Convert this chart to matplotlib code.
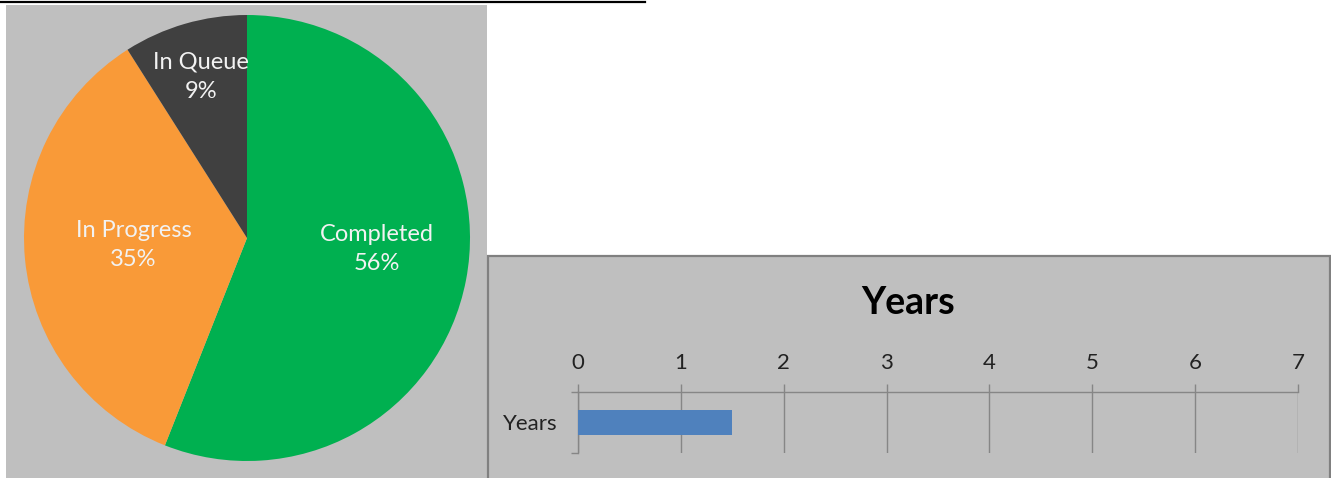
import numpy as np
import matplotlib.pyplot as plt
from matplotlib.patches import Rectangle
from matplotlib.lines import Line2D

plt.rcParams['font.family'] = ['Lato', 'DejaVu Sans']

# pie data
status = ['Completed', 'In Progress', 'In Queue']
share = [56, 35, 9]
pie_colors = ['#00B050', '#F99A38', '#404040']

# bar data
bar_cats = ['Years']
bar_vals = [1.5]
x_ticks = [0, 1, 2, 3, 4, 5, 6, 7]

W, H = 1331, 478
fig = plt.figure(figsize=(W / 100, H / 100), dpi=100)
fig.patch.set_facecolor('white')

def px(x0, y0, w, h):
    # pixel box measured from top-left -> figure fraction
    return [x0 / W, (H - y0 - h) / H, w / W, h / H]

# backgrounds
fig.add_artist(Rectangle((6 / W, 0), 481 / W, 473 / H, transform=fig.transFigure,
                         facecolor='#BFBFBF', edgecolor='none', zorder=0))
fig.add_artist(Rectangle((488 / W, -5 / H), 842 / W, 227 / H, transform=fig.transFigure,
                         facecolor='#BFBFBF', edgecolor='#808080', linewidth=1.6, zorder=0))
fig.add_artist(Line2D([0, 645 / W], [1 - 1.5 / H, 1 - 1.5 / H], transform=fig.transFigure,
                      color='black', linewidth=1.6))

# ---- pie
ax = fig.add_axes(px(24, 15, 446, 446))
wedges, _ = ax.pie(share, colors=pie_colors, startangle=90, counterclock=False,
                   radius=1, wedgeprops=dict(linewidth=0))
ax.set_xlim(-1, 1)
ax.set_ylim(-1, 1)
ax.set_aspect('equal')
ax.axis('off')

label_pos = [(0.585, -4.8), (0.51, 183.5), (0.75, 106)]
for name, v, (r, ang) in zip(status, share, label_pos):
    a = np.deg2rad(ang)
    ax.text(r * np.cos(a), r * np.sin(a), f'{name}\n{v}%', ha='center', va='center',
            color='#F2F2F2', fontsize=17, linespacing=1.5)

# ---- bar
bx = fig.add_axes(px(578, 392, 720, 61))
bx.patch.set_alpha(0)
bx.barh(bar_cats, bar_vals, height=0.41, color='#4F81BD', zorder=3)
bx.set_xlim(0, 7)
bx.set_ylim(-0.5, 0.5)
bx.set_xticks(x_ticks)
bx.xaxis.tick_top()
bx.tick_params(axis='x', direction='out', length=5.8, width=1, color='#868686',
               labelsize=16, pad=8, labelcolor='#222222')
bx.grid(axis='x', color='#868686', linewidth=1)
bx.set_yticks([-0.5, 0.5])
bx.set_yticklabels(['', ''])
bx.set_yticks([0], minor=True)
bx.set_yticklabels(bar_cats, minor=True)
bx.tick_params(axis='y', which='major', length=5, width=1, color='#868686')
bx.tick_params(axis='y', which='minor', length=0, pad=15, labelsize=16, labelcolor='#222222')
for s in ['bottom', 'right']:
    bx.spines[s].set_visible(False)
for s in ['top', 'left']:
    bx.spines[s].set_color('#868686')
    bx.spines[s].set_linewidth(1)

fig.text(908 / W, 1 - 303 / H, 'Years', ha='center', va='center', fontsize=27,
         fontweight='bold', color='black')

fig.savefig('out.png', dpi=100)
